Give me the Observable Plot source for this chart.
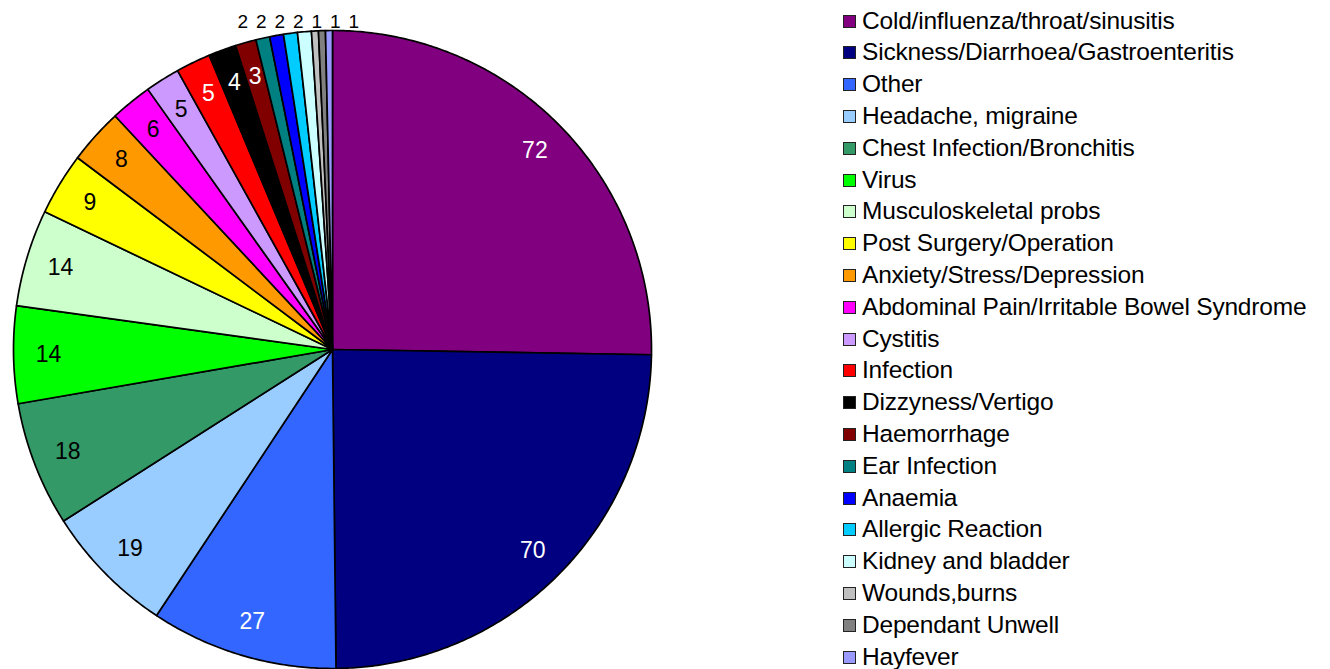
<!DOCTYPE html>
<html>
<head>
<meta charset="utf-8">
<script src="https://cdn.jsdelivr.net/npm/d3@7"></script>
<script src="https://cdn.jsdelivr.net/npm/@observablehq/plot@0.6"></script>
<style>
  html, body { margin: 0; padding: 0; background: #fff; }
  #wrap { position: relative; width: 1330px; height: 669px; overflow: hidden; font-family: "Liberation Sans", Arial, sans-serif; }
  #legend { position: absolute; left: 843px; top: 0px; }
  .item { position: absolute; left: 0; white-space: nowrap; font-size: 24.5px; letter-spacing: -0.2px; color: #000; line-height: 1; }
  .sw { position: absolute; left: 0; width: 11px; height: 11px; border: 1.2px solid #222; }
  .lab { position: absolute; left: 19px; top: -1px; }
</style>
</head>
<body>
<div id="wrap"><div id="chart"></div><div id="legend"></div></div>
<script>
const categories = [
  "Cold/influenza/throat/sinusitis",
  "Sickness/Diarrhoea/Gastroenteritis",
  "Other",
  "Headache, migraine",
  "Chest Infection/Bronchitis",
  "Virus",
  "Musculoskeletal probs",
  "Post Surgery/Operation",
  "Anxiety/Stress/Depression",
  "Abdominal Pain/Irritable Bowel Syndrome",
  "Cystitis",
  "Infection",
  "Dizzyness/Vertigo",
  "Haemorrhage",
  "Ear Infection",
  "Anaemia",
  "Allergic Reaction",
  "Kidney and bladder",
  "Wounds,burns",
  "Dependant Unwell",
  "Hayfever"
];
const values = [72, 70, 27, 19, 18, 14, 14, 9, 8, 6, 5, 5, 4, 3, 2, 2, 2, 2, 1, 1, 1];
const colors = [
  "#800080", "#000080", "#3366FF", "#99CCFF", "#339966", "#00FF00", "#CCFFCC",
  "#FFFF00", "#FF9900", "#FF00FF", "#CC99FF", "#FF0000", "#000000", "#800000",
  "#008080", "#0000FF", "#00CCFF", "#CCFFFF", "#C0C0C0", "#808080", "#9999FF"
];
const labelColors = [
  "#fff", "#fff", "#fff", "#000", "#000", "#000", "#000",
  "#000", "#000", "#000", "#000", "#fff", "#fff", "#fff",
  "#000", "#000", "#000", "#000", "#000", "#000", "#000"
];

// layout constants (pixels)
const W = 1330, H = 669, R = 319, CX = 332, CY = 349;

const total = d3.sum(values);
const slices = [];
let acc = 0;
values.forEach((v, i) => {
  const a0 = acc / total * 2 * Math.PI;
  acc += v;
  const a1 = acc / total * 2 * Math.PI;
  slices.push({cat: categories[i], value: v, a0, a1, mid: (a0 + a1) / 2, i});
});

// polygon points for each slice
const poly = [];
for (const s of slices) {
  poly.push({cat: s.cat, x: 0, y: 0});
  const n = Math.max(2, Math.ceil((s.a1 - s.a0) / (Math.PI / 360)));
  for (let k = 0; k <= n; k++) {
    const a = s.a0 + (s.a1 - s.a0) * k / n;
    poly.push({cat: s.cat, x: Math.sin(a), y: Math.cos(a)});
  }
  poly.push({cat: s.cat, x: 0, y: 0});
}

// labels: inside for larger slices, outside row for tiny ones
const inside = slices.filter(s => s.value >= 3).map(s => ({
  text: String(s.value), x: 0.89 * Math.sin(s.mid), y: 0.89 * Math.cos(s.mid), color: labelColors[s.i]
}));
const outsideS = slices.filter(s => s.value < 3);
const radialX = outsideS.map(s => 1.05 * Math.sin(s.mid));
const meanX = d3.mean(radialX);
const step = 18.5 / R;
const outside = outsideS.map((s, k) => ({
  text: String(s.value),
  x: meanX + (k - (outsideS.length - 1) / 2) * step,
  y: (CY - 21) / R,
  color: "#000"
}));

const chart = Plot.plot({
  width: W, height: H, margin: 0,
  x: {domain: [-CX / R, (W - CX) / R], axis: null},
  y: {domain: [-(H - CY) / R, CY / R], axis: null},
  color: {domain: categories, range: colors},
  style: {fontFamily: "'Liberation Sans', Arial, sans-serif", background: "white"},
  marks: [
    Plot.line(poly, {x: "x", y: "y", z: "cat", fill: "cat", stroke: "#000", strokeWidth: 1.7, strokeLinejoin: "round", curve: "linear"}),
    Plot.text(inside, {x: "x", y: "y", text: "text", fill: "color", fontSize: 23}),
    Plot.text(outside, {x: "x", y: "y", text: "text", fill: "color", fontSize: 19})
  ]
});
document.getElementById("chart").appendChild(chart);

const legend = document.getElementById("legend");
categories.forEach((c, i) => {
  const y = 21.5 + i * 31.8;
  const item = document.createElement("div");
  item.className = "item";
  item.style.top = (y - 12) + "px";
  const sw = document.createElement("div");
  sw.className = "sw";
  sw.style.background = colors[i];
  sw.style.top = "5px";
  const lab = document.createElement("span");
  lab.className = "lab";
  lab.textContent = c;
  item.appendChild(sw);
  item.appendChild(lab);
  legend.appendChild(item);
});
</script>
</body>
</html>
